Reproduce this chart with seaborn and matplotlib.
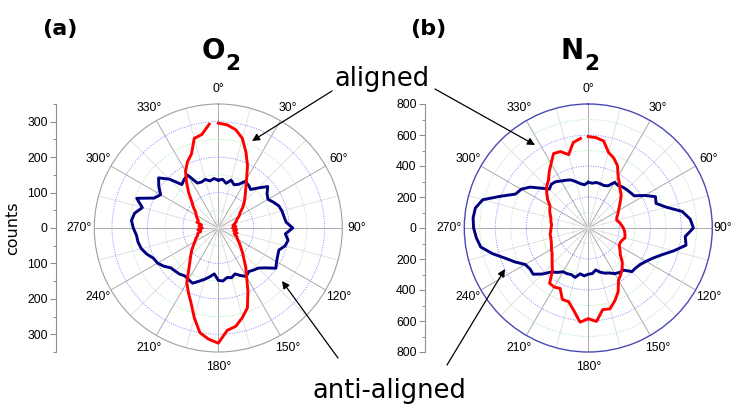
import numpy as np
import pandas as pd
import matplotlib
matplotlib.use("Agg")
import matplotlib.pyplot as plt
import seaborn as sns

# ---------------- data ----------------
angles_deg = list(range(0, 360, 5))

o2_aligned = [296, 292, 282, 262, 228, 195, 160, 135, 118, 104,
              90, 75, 68, 58, 54, 48, 42, 50, 40, 52,
              44, 55, 48, 58, 62, 72, 82, 96, 112, 135,
              160, 198, 240, 262, 282, 290, 325, 315, 300, 262,
              225, 200, 178, 146, 125, 110, 98, 86, 76, 70,
              62, 60, 50, 58, 45, 55, 48, 62, 60, 66,
              72, 78, 92, 106, 130, 156, 185, 206, 222, 262,
              268, 294]

o2_anti = [135, 138, 128, 140, 130, 136, 152, 148, 142, 160,
           182, 168, 162, 172, 182, 186, 188, 192, 210, 190,
           200, 195, 182, 185, 190, 198, 175, 160, 155, 150,
           158, 148, 138, 145, 142, 150, 148, 130, 140, 150,
           160, 172, 168, 165, 170, 172, 175, 188, 198, 202,
           215, 225, 230, 232, 240, 246, 240, 222, 245, 200,
           188, 205, 220, 195, 160, 168, 172, 140, 138, 142,
           135, 140]

n2_aligned = [590, 585, 570, 505, 480, 445, 385, 350, 320, 300,
              270, 245, 225, 210, 195, 190, 205, 215, 226, 235,
              240, 245, 232, 226, 230, 250, 270, 310, 340, 365,
              390, 455, 500, 540, 535, 605, 585, 610, 540, 492,
              490, 430, 440, 435, 360, 330, 305, 285, 275, 262,
              255, 250, 250, 244, 240, 238, 245, 250, 262, 275,
              285, 320, 350, 380, 400, 440, 480, 530, 525, 490,
              560, 580]

n2_anti = [295, 290, 298, 296, 292, 300, 340, 335, 345, 350,
           355, 362, 420, 478, 465, 520, 615, 660, 678, 628,
           640, 570, 505, 460, 430, 410, 400, 398, 355, 350,
           340, 320, 310, 295, 275, 295, 298, 310, 300, 330,
           320, 325, 326, 350, 370, 420, 464, 460, 470, 520,
           570, 640, 705, 725, 740, 746, 740, 705, 600, 518,
           500, 460, 400, 355, 370, 365, 350, 340, 330, 310,
           290, 280]

panel_letters = ["(a)", "(b)"]
molecules = ["O", "N"]
rmax_values = [350, 800]
major_steps = [100, 200]
theta_label_values = list(range(0, 360, 30))

# ---------------- figure ----------------
W, H = 732, 404
fig = plt.figure(figsize=(W / 100, H / 100), dpi=100)

SMALL = dict(family="Liberation Sans", size=8.8)
BIG = "DejaVu Sans"

RED = "#ff0000"
NAVY = "#000080"


def make_polar(cx, cy, rad, rmax, step, ring_color, ring_lw, tight_right=False):
    ax = fig.add_axes([(cx - rad) / W, (H - cy - rad) / H, 2 * rad / W, 2 * rad / H],
                      projection="polar")
    ax.set_theta_zero_location("N")
    ax.set_theta_direction(-1)
    ax.set_ylim(0, rmax)
    ax.set_xticks(np.deg2rad(np.arange(0, 360, 30)))
    ax.set_xticks(np.deg2rad(np.arange(15, 360, 30)), minor=True)
    ax.set_yticks(np.arange(step, rmax, step))
    ax.set_yticks(np.arange(step / 2, rmax, step), minor=True)
    ax.set_xticklabels([])
    ax.set_yticklabels([])
    ax.set_yticklabels([], minor=True)
    ax.tick_params(which="both", length=0)
    ax.grid(which="major", axis="x", color="#ababab", lw=0.7, ls="-")
    ax.grid(which="minor", axis="x", color="#dcdcdc", lw=0.6, ls="-")
    ax.grid(which="major", axis="y", color="#8282ff", lw=0.6, ls=(0, (1.3, 1.6)))
    ax.grid(which="minor", axis="y", color="#a6e6a6", lw=0.6, ls=(0, (1.3, 1.6)))
    ax.spines["polar"].set_color(ring_color)
    ax.spines["polar"].set_linewidth(ring_lw)
    ax.set_facecolor("none")
    for a in theta_label_values:
        fr = 1.12
        if tight_right and a == 90:
            fr = 1.085
        ax.text(np.deg2rad(a), rmax * fr, f"{a}°", ha="center", va="center",
                clip_on=False, **SMALL)
    return ax


def make_raxis(x, cy, rad, rmax, step):
    axr = fig.add_axes([x / W, (H - cy - rad) / H, 0.004, 2 * rad / H])
    axr.set_ylim(-rmax, rmax)
    for s in ["right", "top", "bottom"]:
        axr.spines[s].set_visible(False)
    axr.spines["left"].set_color("#909090")
    axr.spines["left"].set_linewidth(0.8)
    axr.set_xticks([])
    ticks = np.arange(-(rmax // step) * step, rmax + 1, step)
    axr.set_yticks(ticks)
    axr.set_yticks(np.arange(-rmax, rmax + 1, step / 2), minor=True)
    axr.set_yticklabels([f"{abs(int(t))}" for t in ticks], fontfamily="Liberation Sans", fontsize=8.8)
    axr.tick_params(axis="y", which="major", length=4, width=0.8, color="#909090", pad=2)
    axr.tick_params(axis="y", which="minor", length=2.2, width=0.7, color="#909090")
    axr.set_facecolor("none")
    return axr


def draw(ax, values, color, closed):
    ang = list(angles_deg)
    val = list(values)
    if closed:
        ang = ang + [360]
        val = val + [values[0]]
    df = pd.DataFrame({"theta": np.deg2rad(ang), "r": val})
    sns.lineplot(data=df, x="theta", y="r", ax=ax, sort=False, estimator=None,
                 color=color, linewidth=2.1)
    ax.set_xlabel("")
    ax.set_ylabel("")


# left panel (O2)
axL = make_polar(218.3, 228, 124, rmax_values[0], major_steps[0], "#a0a0a0", 0.8)
draw(axL, o2_anti, NAVY, True)
draw(axL, o2_aligned, RED, False)
axrL = make_raxis(56, 228, 124, rmax_values[0], major_steps[0])
axrL.set_ylabel("counts", family=BIG, fontsize=11.5, labelpad=5)

# right panel (N2)
axR = make_polar(588.3, 228, 124, rmax_values[1], major_steps[1], "#4a4ab4", 1.0, tight_right=True)
draw(axR, n2_anti, NAVY, True)
draw(axR, n2_aligned, RED, False)
axrR = make_raxis(425, 228, 124, rmax_values[1], major_steps[1])

# overlay for titles and annotations (pixel coordinates)
ov = fig.add_axes([0, 0, 1, 1], facecolor="none")
ov.set_xlim(0, W)
ov.set_ylim(H, 0)
ov.axis("off")

for x, lab in zip([60, 428], panel_letters):
    ov.text(x, 29, lab, family=BIG, fontweight="bold", fontsize=16, ha="center", va="center")

for x, mol in zip([213, 572], molecules):
    t = ov.text(x, 51, mol, family=BIG, fontweight="bold", fontsize=20, ha="center", va="center")
    ov.annotate("2", xy=(1.0, 0.0), xycoords=t, xytext=(0.5, 1), textcoords="offset points",
                family=BIG, fontweight="bold", fontsize=15.5, ha="left", va="center")

ov.text(382, 86, "aligned", family=BIG, fontsize=18.5, ha="center", va="baseline")
ov.text(389, 398, "anti-aligned", family=BIG, fontsize=18.5, ha="center", va="baseline")

arrow = dict(arrowstyle="-|>", color="black", lw=0.9, mutation_scale=11, shrinkA=0, shrinkB=0)
ov.annotate("", xy=(252, 141), xytext=(332, 91), arrowprops=arrow)
ov.annotate("", xy=(535, 145), xytext=(435, 89), arrowprops=arrow)
ov.annotate("", xy=(282, 281), xytext=(338, 358), arrowprops=arrow)
ov.annotate("", xy=(505, 269), xytext=(447, 365), arrowprops=arrow)

fig.savefig("out.png", dpi=100)
